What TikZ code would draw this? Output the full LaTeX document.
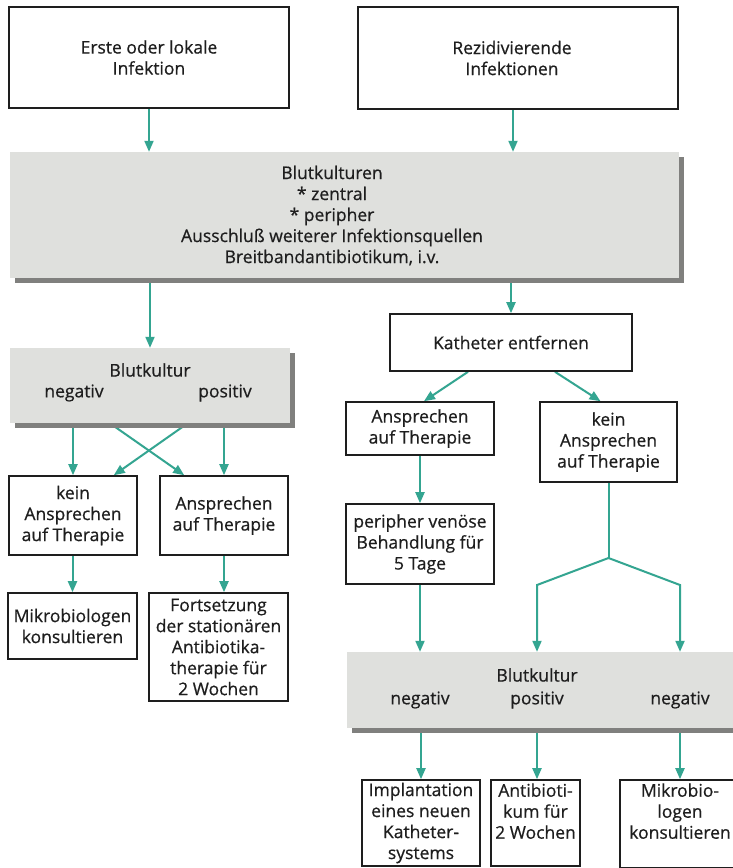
\documentclass[tikz,border=0pt]{standalone}
\usepackage{fontspec}
\setmainfont{Open Sans}[UprightFeatures={FakeBold=0.6}]
\usetikzlibrary{arrows.meta,calc,shadows}
\definecolor{tealline}{RGB}{52,165,145}
\definecolor{panel}{RGB}{223,224,221}
\definecolor{shade}{RGB}{128,128,126}
\definecolor{ink}{RGB}{30,30,30}
\pgfdeclarelayer{background}
\pgfsetlayers{background,main}

\begin{document}
\begin{tikzpicture}[x=1pt,y=-1pt,
  txt/.style={font=\fontsize{17.5}{21}\selectfont, text=ink, align=center},
  box/.style={txt, draw=ink, line width=1.6pt, fill=white, inner sep=0pt},
  panelbox/.style={fill=panel, inner sep=0pt,
    general shadow={fill=shade, shadow xshift=5pt, shadow yshift=-5pt}},
  lbl/.style={txt, inner sep=0pt},
  link/.style={draw=tealline, line width=2pt, -{Triangle[length=11pt,width=9pt]}},
  plain/.style={draw=tealline, line width=2pt}
]
\useasboundingbox (0,0) rectangle (732,868);

% top row
\node[box, minimum width=280pt, minimum height=101pt] (b1) at (149,57.5)
  {Erste oder lokale\\Infektion};
\node[box, minimum width=320pt, minimum height=102pt] (b2) at (518,58) {};
\node[lbl] (b2t) at (512,58) {Rezidivierende\\Infektionen};

% first diagnostic panel
\node[panelbox, minimum width=669pt, minimum height=126pt] (big) at (344.5,215) {};
\node[lbl] (bigt) at (332,215.5)
  {Blutkulturen\\* zentral\\* peripher\\Ausschluß weiterer Infektionsquellen\\Breitbandantibiotikum, i.v.};

% left branch
\node[panelbox, minimum width=280pt, minimum height=75pt] (blutL) at (150,385.5) {};
\node[lbl] (blutLt) at (150,370) {Blutkultur};
\node[lbl] (negL) at (74,393) {negativ};
\node[lbl] (posL) at (225,393) {positiv};

\node[box, minimum width=128pt, minimum height=79pt] (kL) at (73,515.5)
  {kein\\Ansprechen\\auf Therapie};
\node[box, minimum width=128pt, minimum height=79pt] (ansL) at (224,515.5)
  {Ansprechen\\auf Therapie};
\node[box, minimum width=129pt, minimum height=66pt] (mikL) at (72.5,626)
  {Mikrobiologen\\konsultieren};
\node[box, minimum width=139pt, minimum height=108pt] (fort) at (218.5,647)
  {Fortsetzung\\der stationären\\Antibiotika-\\therapie für\\2 Wochen};

% right branch
\node[box, minimum width=242pt, minimum height=57pt] (kath) at (511,342.5)
  {Katheter entfernen};
\node[box, minimum width=148pt, minimum height=53pt] (ansR) at (420,428.5)
  {Ansprechen\\auf Therapie};
\node[box, minimum width=137pt, minimum height=80pt] (keinR) at (608.5,442)
  {kein\\Ansprechen\\auf Therapie};
\node[box, minimum width=148pt, minimum height=80pt] (peri) at (420,544)
  {peripher venöse\\Behandlung für\\5 Tage};

% second diagnostic panel
\node[panelbox, minimum width=398pt, minimum height=76pt] (botG) at (546,690) {};
\node[lbl] (botGt) at (537,675) {Blutkultur};
\node[lbl] (negR1) at (420,700) {negativ};
\node[lbl] (posR) at (537,700) {positiv};
\node[lbl] (negR2) at (680,700) {negativ};

% bottom row
\node[box, minimum width=118pt, minimum height=86pt] (impl) at (421,823)
  {Implantation\\eines neuen\\Katheter-\\systems};
\node[box, minimum width=89pt, minimum height=86pt] (anti) at (535.5,823) {};
\node[lbl, anchor=north] (antit) at ([yshift=-4pt]anti.north) {Antibioti-\\kum für\\2 Wochen};
\node[box, minimum width=120pt, minimum height=88pt] (mikR) at (680,824) {};
\node[lbl, anchor=north] (mikRt) at ([yshift=-4pt]mikR.north) {Mikrobio-\\logen\\konsultieren};

\coordinate (split) at (608.5,558);
\coordinate (splitL) at (537,585);
\coordinate (splitR) at (680,585);

\begin{pgfonlayer}{background}
  \fill[white] (0,0) rectangle (732,868);
  \draw[link] (b1.south) -- (b1.south |- big.north);
  \draw[link] ([xshift=-5pt]b2.south) -- ([xshift=-5pt]b2.south |- big.north);
  \draw[link] (big.south -| blutL.north) -- (blutL.north);
  \draw[link] (big.south -| kath.north) -- (kath.north);

  \draw[link] (blutL.south -| kL.north) -- (kL.north);
  \draw[link] (blutL.south -| ansL.north) -- (ansL.north);
  \draw[link] ([xshift=100pt]blutL.south west) -- ([xshift=25pt]ansL.north west);
  \draw[link] ([xshift=178pt]blutL.south west) -- ([xshift=-24pt]kL.north east);
  \draw[link] (kL.south -| mikL.north) -- (mikL.north);
  \draw[link] (ansL.south) -- (ansL.south |- fort.north);

  \draw[link] ([xshift=-43pt]kath.south) -- ([xshift=4pt]ansR.north);
  \draw[link] ([xshift=44pt]kath.south) -- ([xshift=-8pt]keinR.north);
  \draw[link] (ansR.south) -- (peri.north);
  \draw[plain] (keinR.south) -- (split);
  \draw[link] (split) -- (splitL) -- (splitL |- botG.north);
  \draw[link] (split) -- (splitR) -- (splitR |- botG.north);
  \draw[link] (peri.south) -- (peri.south |- botG.north);

  \draw[link] (botG.south -| impl.north) -- (impl.north);
  \draw[link] (botG.south -| posR) -- (posR |- anti.north);
  \draw[link] (botG.south -| negR2) -- (negR2 |- mikR.north);
\end{pgfonlayer}
\end{tikzpicture}
\end{document}
